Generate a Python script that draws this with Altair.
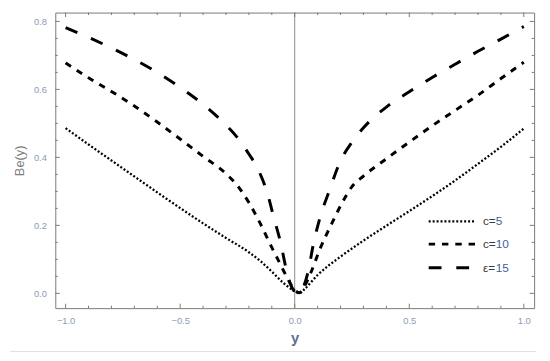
import altair as alt
import pandas as pd

# ---- data ----
x_c5 = [-1.0, -0.9, -0.8, -0.7, -0.6, -0.5, -0.4, -0.3, -0.2, -0.15, -0.1, -0.05, 0.0, 0.02, 0.045, 0.1, 0.2, 0.3, 0.4, 0.5, 0.6, 0.7, 0.8, 0.9, 1.0]
y_c5 = [0.486, 0.438, 0.391, 0.344, 0.297, 0.251, 0.206, 0.163, 0.121, 0.095, 0.064, 0.031, 0.006, 0.0, 0.014, 0.054, 0.108, 0.155, 0.199, 0.242, 0.286, 0.332, 0.381, 0.431, 0.485]

x_c10 = [-1.0, -0.9, -0.8, -0.7, -0.6, -0.5, -0.4, -0.3, -0.25, -0.2, -0.15, -0.1, -0.06, -0.03, 0.0, 0.02, 0.045, 0.07, 0.11, 0.16, 0.21, 0.25, 0.3, 0.4, 0.5, 0.6, 0.7, 0.8, 0.9, 1.0]
y_c10 = [0.678, 0.634, 0.594, 0.551, 0.504, 0.454, 0.403, 0.352, 0.317, 0.267, 0.205, 0.135, 0.082, 0.042, 0.01, 0.002, 0.024, 0.06, 0.13, 0.203, 0.27, 0.314, 0.345, 0.396, 0.445, 0.493, 0.538, 0.583, 0.632, 0.68]

x_c15 = [-1.0, -0.9, -0.8, -0.7, -0.6, -0.5, -0.4, -0.3, -0.25, -0.2, -0.16, -0.12, -0.09, -0.06, -0.04, -0.02, 0.0, 0.02, 0.04, 0.06, 0.08, 0.11, 0.15, 0.2, 0.25, 0.3, 0.4, 0.5, 0.6, 0.7, 0.8, 0.9, 1.0]
y_c15 = [0.782, 0.753, 0.722, 0.688, 0.650, 0.606, 0.556, 0.495, 0.458, 0.41, 0.365, 0.296, 0.22, 0.145, 0.08, 0.03, 0.006, 0.0, 0.022, 0.068, 0.14, 0.222, 0.30, 0.39, 0.445, 0.487, 0.548, 0.593, 0.635, 0.674, 0.712, 0.748, 0.785]

series_names = ["c=5", "c=10", "ε=15"]
legend_prefix = ["c=", "c=", "ε="]
legend_number = ["5", "10", "15"]

x_major = [-1.0, -0.5, 0.0, 0.5, 1.0]
x_minor = [-0.9, -0.8, -0.7, -0.6, -0.4, -0.3, -0.2, -0.1, 0.1, 0.2, 0.3, 0.4, 0.6, 0.7, 0.8, 0.9]
y_major = [0.0, 0.2, 0.4, 0.6, 0.8]
y_minor = [0.05, 0.1, 0.15, 0.25, 0.3, 0.35, 0.45, 0.5, 0.55, 0.65, 0.7, 0.75]

X_DOMAIN = [-1.045, 1.045]
Y_DOMAIN = [-0.0435, 0.826]
W, H = 486, 300

xs = alt.Scale(domain=X_DOMAIN, nice=False, zero=False)
ys = alt.Scale(domain=Y_DOMAIN, nice=False, zero=False)

label_color = "#8b9bb3"
frame_color = "#7a7a7a"

def curve(xv, yv, dash, width):
    df = pd.DataFrame({"x": xv, "y": yv})
    return alt.Chart(df).mark_line(
        color="black", strokeDash=dash, strokeWidth=width, interpolate="monotone"
    ).encode(
        x=alt.X("x:Q", scale=xs,
                axis=alt.Axis(values=x_major, format=".1f", ticks=False, domain=False, grid=False,
                              labelColor=label_color, labelFontSize=9.5, labelFont="Liberation Sans",
                              labelPadding=8, title="y", titleColor="#5c6f8e", titleFontSize=15,
                              titleFont="Liberation Sans", titleFontWeight="bold", titlePadding=5)),
        y=alt.Y("y:Q", scale=ys,
                axis=alt.Axis(values=y_major, format=".1f", ticks=False, domain=False, grid=False,
                              labelColor=label_color, labelFontSize=9.5, labelFont="Liberation Sans",
                              labelPadding=9, title="Be(y)", titleColor="#7d7d7d", titleFontSize=13,
                              titleFont="Liberation Sans", titleFontWeight="normal", titlePadding=7)),
    )

c5 = curve(x_c5, y_c5, [2, 2], 2.3)
c10 = curve(x_c10, y_c10, [6.5, 7], 3)
c15 = curve(x_c15, y_c15, [13, 15], 3)

# vertical line at x = 0
zero_df = pd.DataFrame({"x": [0.0]})
zero_line = alt.Chart(zero_df).mark_rule(color="#8a8a8a", strokeWidth=1).encode(
    x=alt.X("x:Q", scale=xs), y=alt.value(0), y2=alt.value(H))

# inward ticks on all four sides
def xticks(vals, length):
    df = pd.DataFrame({"x": vals})
    bottom = alt.Chart(df).mark_rule(color=frame_color, strokeWidth=1).encode(
        x=alt.X("x:Q", scale=xs), y=alt.value(H), y2=alt.value(H - length))
    top = alt.Chart(df).mark_rule(color=frame_color, strokeWidth=1).encode(
        x=alt.X("x:Q", scale=xs), y=alt.value(0), y2=alt.value(length))
    return bottom + top

def yticks(vals, length):
    df = pd.DataFrame({"y": vals})
    left = alt.Chart(df).mark_rule(color=frame_color, strokeWidth=1).encode(
        y=alt.Y("y:Q", scale=ys), x=alt.value(0), x2=alt.value(length))
    right = alt.Chart(df).mark_rule(color=frame_color, strokeWidth=1).encode(
        y=alt.Y("y:Q", scale=ys), x=alt.value(W), x2=alt.value(W - length))
    return left + right

ticks = xticks(x_major, 4.5) + xticks(x_minor, 2.5) + yticks(y_major, 4.5) + yticks(y_minor, 2.5)

# legend (manual, inside plot)
leg_dash = [[2, 2], [6.5, 7], [13, 15]]
leg_width = [2.3, 3, 3]
leg_y = [212, 235, 259]
legend_layers = []
for i in range(3):
    df = pd.DataFrame({"name": [series_names[i]]})
    legend_layers.append(alt.Chart(df).mark_rule(color="black", strokeDash=leg_dash[i], strokeWidth=leg_width[i]).encode(
        x=alt.value(379), x2=alt.value(426), y=alt.value(leg_y[i])))
    dfp = pd.DataFrame({"t": [legend_prefix[i]]})
    legend_layers.append(alt.Chart(dfp).mark_text(align="left", baseline="middle", fontSize=12,
                                                  font="Liberation Sans", color="#3a3a3a").encode(
        x=alt.value(434), y=alt.value(leg_y[i]), text="t:N"))
    dfn = pd.DataFrame({"t": [legend_number[i]]})
    legend_layers.append(alt.Chart(dfn).mark_text(align="left", baseline="middle", fontSize=12,
                                                  font="Liberation Sans", color="#3f5f95").encode(
        x=alt.value(447), y=alt.value(leg_y[i]), text="t:N"))

# thin light rule under the chart
sep = alt.Chart(pd.DataFrame({"a": [0]})).mark_rule(color="#e2e2e2", strokeWidth=1).encode(
    x=alt.value(-46), x2=alt.value(488), y=alt.value(344))

chart = alt.layer(zero_line, ticks, c5, c10, c15, *legend_layers, sep).properties(
    width=W, height=H,
    autosize=alt.AutoSizeParams(type="none"),
    padding={"left": 48, "top": 2, "right": 8, "bottom": 51},
    background="white",
).configure_view(stroke=frame_color, strokeWidth=1)

chart.save("out.html", embed_options={"renderer": "svg", "actions": False})
